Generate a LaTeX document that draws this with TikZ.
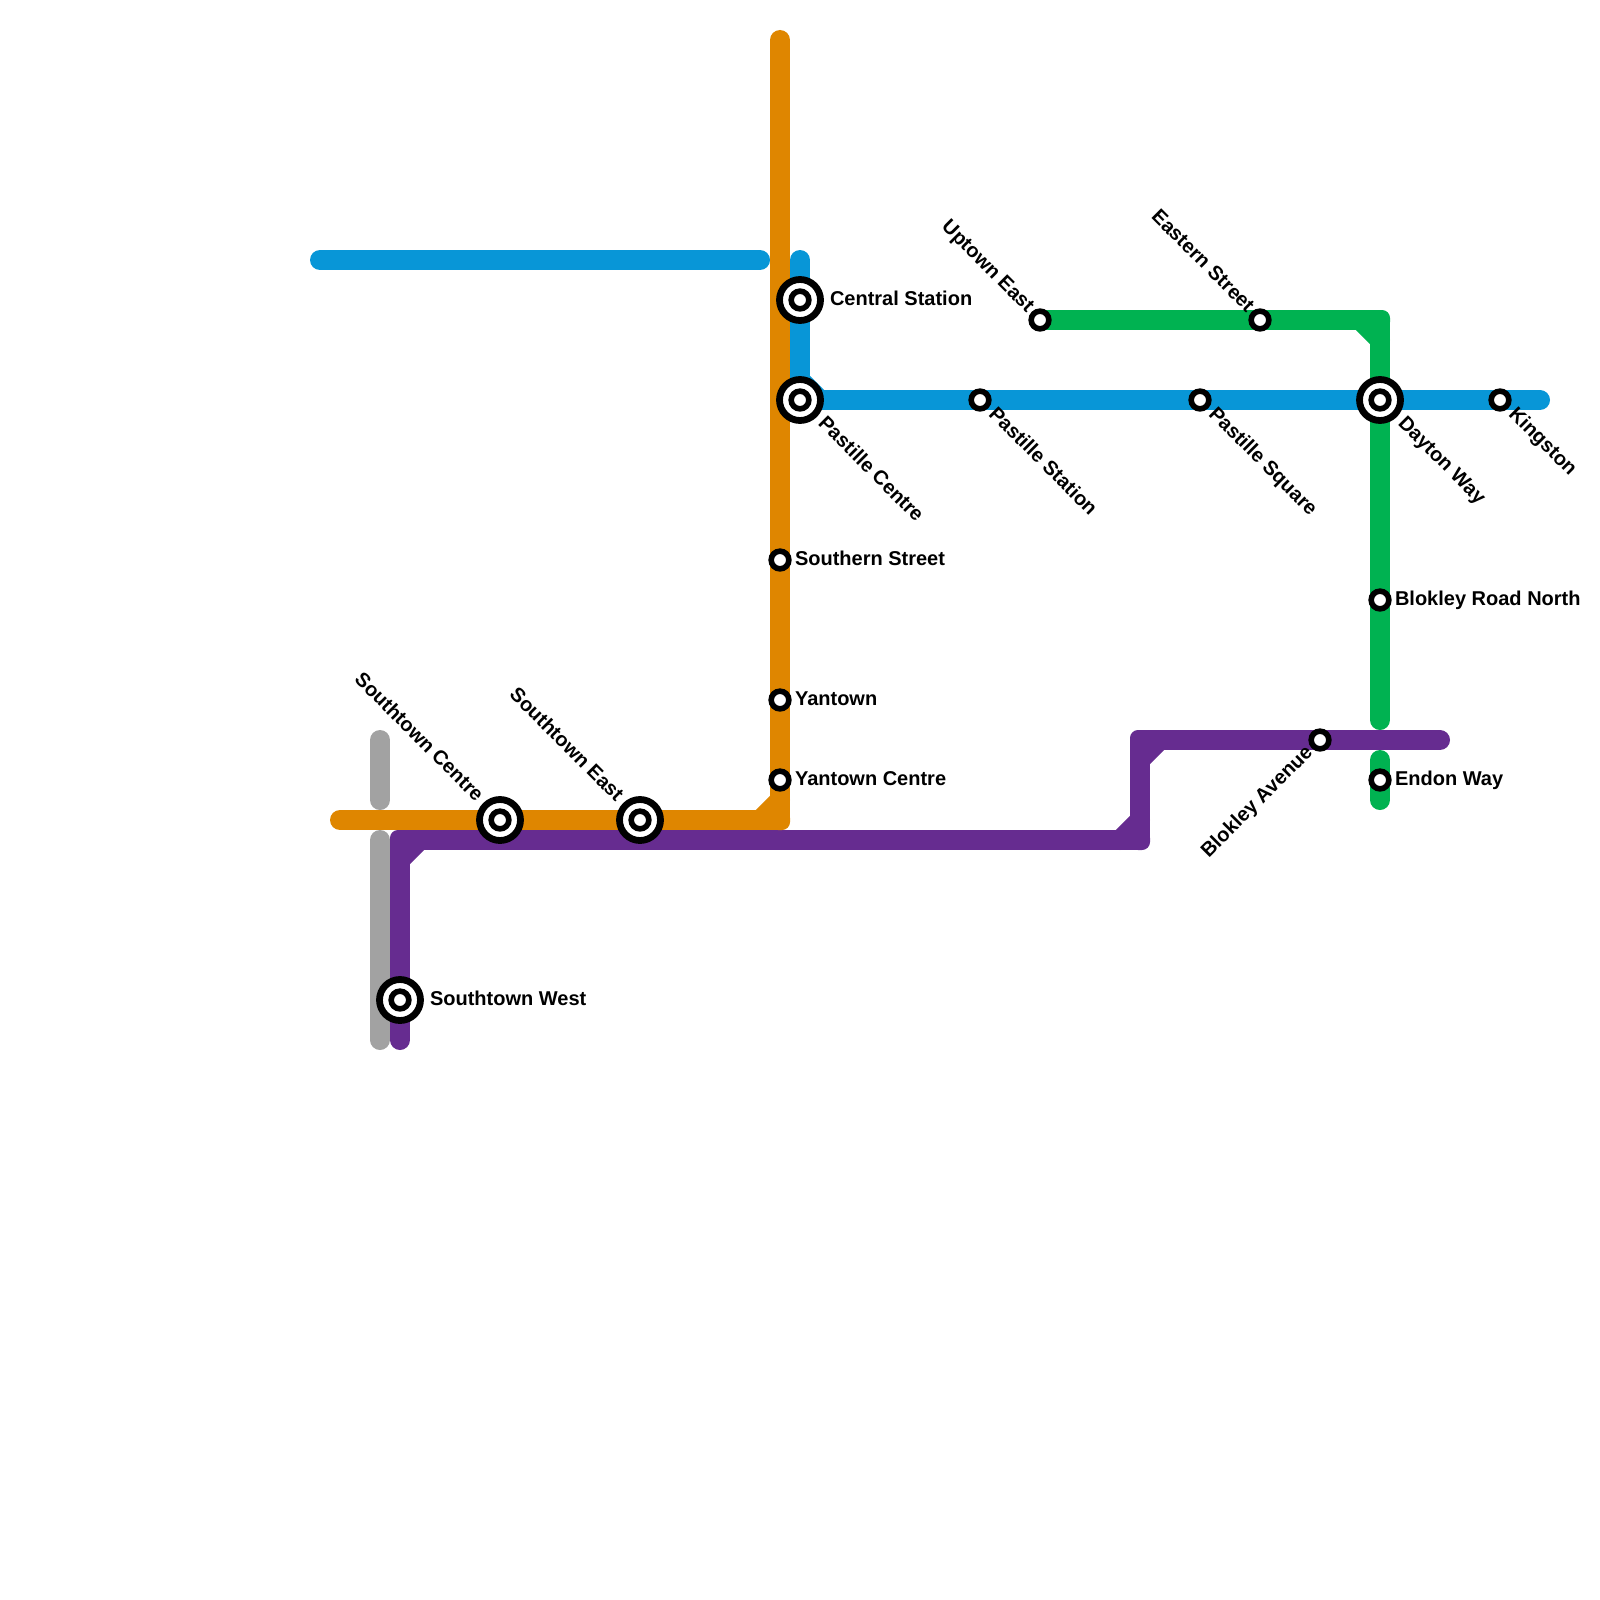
\documentclass[tikz,border=0pt]{standalone}
\usepackage{fontspec}
\setmainfont{Liberation Sans}
\definecolor{lineorange}{HTML}{DF8600}
\definecolor{lineblue}{HTML}{0896D7}
\definecolor{linegreen}{HTML}{00B251}
\definecolor{linepurple}{HTML}{662C90}
\definecolor{linegrey}{HTML}{A2A2A2}
\usetikzlibrary{backgrounds,calc}

\begin{document}
\begin{tikzpicture}[
      x=1pt, y=-1pt,
      metroline/.style={line width=20pt, line cap=round, line join=round},
      bendbox/.style={rectangle, rounded corners=8pt, minimum size=20pt, inner sep=0pt, outer sep=0pt},
      stopring/.style={circle, draw=black, line width=5.6pt, fill=white, minimum size=17.7pt, inner sep=0pt, outer sep=0pt},
      bigring/.style={circle, draw=black, line width=6.8pt, fill=white, minimum size=41pt, inner sep=0pt, outer sep=0pt},
      stoplabel/.style={inner sep=0pt, outer sep=0pt, text height=14pt, text depth=4pt,
                  font=\fontsize{20}{24}\selectfont\bfseries}]
    \useasboundingbox (0,0) rectangle (1600,1600);
    % ends and bends of the lines
    \coordinate (bluewest) at (320,260);
    \coordinate (bluegap) at (760,260);
    \coordinate (bluenorth) at (800,260);
    \coordinate (bluebend) at (800,400);
    \coordinate (blueeast) at (1540,400);
    \coordinate (orangetop) at (780,40);
    \coordinate (orangewest) at (340,820);
    \coordinate (greensouth) at (1380,720);
    \coordinate (greenstubtop) at (1380,760);
    \coordinate (greenstubend) at (1380,800);
    \coordinate (purplesouth) at (400,1040);
    \coordinate (purpleeast) at (1440,740);
    \coordinate (greytop) at (380,740);
    \coordinate (greytopend) at (380,800);
    \coordinate (greylow) at (380,840);
    \coordinate (greylowend) at (380,1040);
    \node[bendbox, fill=lineorange] (orangebend) at (780,820) {};
    \node[bendbox, fill=linegreen] (greenbend) at (1380,320) {};
    \node[bendbox, fill=linepurple] (purplebenda) at (400,840) {};
    \node[bendbox, fill=linepurple] (purplebendb) at (1140,840) {};
    \node[bendbox, fill=linepurple] (purplebendc) at (1140,740) {};
    % stations
    \node[bigring] (centralring) at (800,300) {};
    \node[bigring] (pastillecentrering) at (800,400) {};
    \node[bigring] (daytonring) at (1380,400) {};
    \node[bigring] (southcentrering) at (500,820) {};
    \node[bigring] (southeastring) at (640,820) {};
    \node[bigring] (southwestring) at (400,1000) {};
    \node[stopring] (central) at (800,300) {};
    \node[stopring] (pastillecentre) at (800,400) {};
    \node[stopring] (dayton) at (1380,400) {};
    \node[stopring] (southcentre) at (500,820) {};
    \node[stopring] (southeast) at (640,820) {};
    \node[stopring] (southwest) at (400,1000) {};
    \node[stopring] (pastillestation) at (980,400) {};
    \node[stopring] (pastillesquare) at (1200,400) {};
    \node[stopring] (kingston) at (1500,400) {};
    \node[stopring] (uptown) at (1040,320) {};
    \node[stopring] (eastern) at (1260,320) {};
    \node[stopring] (southern) at (780,560) {};
    \node[stopring] (yantown) at (780,700) {};
    \node[stopring] (yantowncentre) at (780,780) {};
    \node[stopring] (blokleynorth) at (1380,600) {};
    \node[stopring] (endon) at (1380,780) {};
    \node[stopring] (blokleyave) at (1320,740) {};
    % station names
    \node[stoplabel, anchor=west] (centrallabel) at (830,300) {Central Station};
    \node[stoplabel, anchor=west] (southernlabel) at (795,560) {Southern Street};
    \node[stoplabel, anchor=west] (yantownlabel) at (795,700) {Yantown};
    \node[stoplabel, anchor=west] (yantowncentrelabel) at (795,780) {Yantown Centre};
    \node[stoplabel, anchor=west] (blokleynorthlabel) at (1395,600) {Blokley Road North};
    \node[stoplabel, anchor=west] (endonlabel) at (1395,780) {Endon Way};
    \node[stoplabel, anchor=west] (southwestlabel) at (430,1000) {Southtown West};
    \node[stoplabel, anchor=west, rotate=-45] (pastillecentrelabel) at (821,421) {Pastille Centre};
    \node[stoplabel, anchor=west, rotate=-45] (daytonlabel) at (1401,421) {Dayton Way};
    \node[stoplabel, anchor=west, rotate=-45] (pastillestationlabel) at (991.5,411.5) {Pastille Station};
    \node[stoplabel, anchor=west, rotate=-45] (pastillesquarelabel) at (1211.5,411.5) {Pastille Square};
    \node[stoplabel, anchor=west, rotate=-45] (kingstonlabel) at (1511.5,411.5) {Kingston};
    \node[stoplabel, anchor=east, rotate=-45] (uptownlabel) at (1030,310) {Uptown East};
    \node[stoplabel, anchor=east, rotate=-45] (easternlabel) at (1250,310) {Eastern Street};
    \node[stoplabel, anchor=east, rotate=-45] (southcentrelabel) at (479,799) {Southtown Centre};
    \node[stoplabel, anchor=east, rotate=-45] (southeastlabel) at (619,799) {Southtown East};
    \node[stoplabel, anchor=east, rotate=45] (blokleyavelabel) at (1310,750) {Blokley Avenue};
    % lines go under the stations
    \begin{scope}[on background layer]
      \draw[metroline, lineblue] (bluewest) -- (bluegap);
      \draw[metroline, lineblue] (bluenorth) -- (central.center) -- (pastillecentre.center)
        -- (pastillestation.center) -- (pastillesquare.center) -- (dayton.center) -- (kingston.center) -- (blueeast);
      \draw[metroline, lineblue] ($(bluebend)+(0,-20)$) -- ($(bluebend)+(20,0)$);
      \draw[metroline, lineorange] (orangetop) -- (southern.center) -- (yantown.center)
        -- (yantowncentre.center) -- (orangebend.center) -- (southeast.center) -- (southcentre.center) -- (orangewest);
      \draw[metroline, lineorange] ($(orangebend.center)+(0,-20)$) -- ($(orangebend.center)+(-20,0)$);
      \draw[metroline, linegreen] (uptown.center) -- (eastern.center) -- (greenbend.center)
        -- (dayton.center) -- (blokleynorth.center) -- (greensouth);
      \draw[metroline, linegreen] ($(greenbend.center)+(-20,0)$) -- ($(greenbend.center)+(0,20)$);
      \draw[metroline, linegreen] (greenstubtop) -- (endon.center) -- (greenstubend);
      \draw[metroline, linepurple] (purplesouth) -- (southwest.center) -- (purplebenda.center)
        -- (purplebendb.center) -- (purplebendc.center) -- (blokleyave.center) -- (purpleeast);
      \draw[metroline, linepurple] ($(purplebenda.center)+(0,20)$) -- ($(purplebenda.center)+(20,0)$);
      \draw[metroline, linepurple] ($(purplebendb.center)+(-20,0)$) -- ($(purplebendb.center)+(0,-20)$);
      \draw[metroline, linepurple] ($(purplebendc.center)+(0,20)$) -- ($(purplebendc.center)+(20,0)$);
      \draw[metroline, linegrey] (greytop) -- (greytopend);
      \draw[metroline, linegrey] (greylow) -- (greylowend);
    \end{scope}
  \end{tikzpicture}
\end{document}
